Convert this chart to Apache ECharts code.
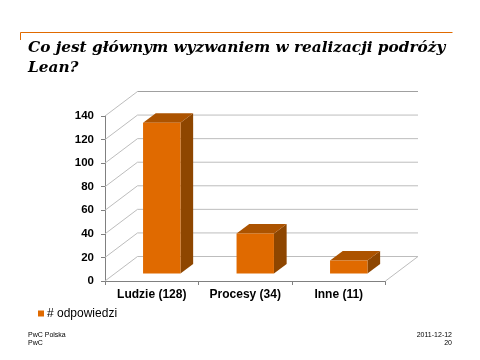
<!DOCTYPE html>
<html><head><meta charset="utf-8">
<style>html,body{margin:0;padding:0;background:#fff}#c{width:480px;height:360px}</style>
<script src="https://cdn.jsdelivr.net/npm/echarts@6/dist/echarts.min.js"></script>
</head><body><div id="c"></div>
<script>
const categories = ['Ludzie (128)', 'Procesy (34)', 'Inne (11)'];
const values = [128, 34, 11];
const yTicks = [0, 20, 40, 60, 80, 100, 120, 140];
const seriesName = '# odpowiedzi';
const titleText = 'Co jest głównym wyzwaniem w realizacji podróży\nLean?';
const footerLeft = 'PwC Polska\nPwC';
const footerRight = '2011-12-12\n20';

const wallDepth = [32.5, -24.5];
const barInset = [10, -7.5];
const barDepth = [12.7, -9.5];
const barShare = 0.4;

const chart = echarts.init(document.getElementById('c'), null, {renderer: 'canvas'});

function renderWall(params, api) {
  const v = api.value(0);
  const cs = params.coordSys;
  const p = api.coord([0, v]);
  const y = p[1];
  const x0 = cs.x, x1 = cs.x + cs.width;
  const bx = x0 + wallDepth[0], by = y + wallDepth[1];
  const children = [
    {type: 'line', shape: {x1: x0, y1: y, x2: bx, y2: by}, style: {stroke: '#BDBDBD', lineWidth: 1}},
    {type: 'line', shape: {x1: bx, y1: by, x2: x1 + wallDepth[0], y2: by},
     style: {stroke: v === 140 ? '#A0A0A0' : '#BDBDBD', lineWidth: 1}}
  ];
  if (v === 0) {
    children.push({type: 'line', shape: {x1: x1, y1: y, x2: x1 + wallDepth[0], y2: by}, style: {stroke: '#BDBDBD', lineWidth: 1}});
  }
  return {type: 'group', children};
}

function renderBar(params, api) {
  const i = api.value(0), v = api.value(1);
  const top = api.coord([i, v]);
  const base = api.coord([i, 0]);
  const w = api.size([1, 0])[0] * barShare;
  const l = top[0] - w / 2 + barInset[0], r = l + w;
  const t = top[1] + barInset[1], b = base[1] + barInset[1];
  const dx = barDepth[0], dy = barDepth[1];
  return {type: 'group', children: [
    {type: 'polygon', shape: {points: [[r, t], [r + dx, t + dy], [r + dx, b + dy], [r, b]]}, style: {fill: '#8E4600'}},
    {type: 'polygon', shape: {points: [[l, t], [l + dx, t + dy], [r + dx, t + dy], [r, t]]}, style: {fill: '#AC5300'}},
    {type: 'rect', shape: {x: l, y: t, width: w, height: b - t}, style: {fill: '#E06A00'}}
  ]};
}

const footStyle = {fontFamily: 'Liberation Sans', fontSize: 7, lineHeight: 8, color: '#000', fontWeight: 'normal'};

chart.setOption({
  animation: false,
  backgroundColor: '#fff',
  title: [
    {text: titleText, left: 28, top: 38, padding: 0,
     textStyle: {fontFamily: 'DejaVu Serif', fontStyle: 'italic', fontWeight: 'bold', fontSize: 15.3, lineHeight: 20, color: '#000'}},
    {text: footerLeft, left: 28, top: 331.5, padding: 0, textStyle: footStyle},
    {text: footerRight, left: 452, top: 331.5, padding: 0, textAlign: 'right', textStyle: Object.assign({}, footStyle, {align: 'right'})}
  ],
  graphic: [
    {type: 'polyline', silent: true, shape: {points: [[20.5, 40], [20.5, 32.5], [452.5, 32.5]]},
     style: {stroke: '#E06A00', lineWidth: 1, fill: null}}
  ],
  legend: {
    left: 38, top: 307.5, padding: 0, itemWidth: 6, itemHeight: 6, itemGap: 3, icon: 'rect',
    data: [seriesName],
    textStyle: {fontFamily: 'Liberation Sans', fontSize: 12, color: '#000', padding: [0, 0, 0, -2]}
  },
  grid: {left: 105, top: 116, width: 280.5, height: 165, containLabel: false},
  xAxis: {
    type: 'category', data: categories, boundaryGap: true,
    axisLine: {lineStyle: {color: '#808080', width: 1}},
    axisTick: {show: true, alignWithLabel: false, length: 4, lineStyle: {color: '#808080'}},
    axisLabel: {fontFamily: 'Liberation Sans', fontWeight: 'bold', fontSize: 12, color: '#000', margin: 8, interval: 0},
    splitLine: {show: false}
  },
  yAxis: {
    type: 'value', min: 0, max: 140, interval: 20,
    axisLine: {show: true, lineStyle: {color: '#808080', width: 1}},
    axisTick: {show: true, length: 4, lineStyle: {color: '#808080'}},
    axisLabel: {fontFamily: 'Liberation Sans', fontWeight: 'bold', fontSize: 11.5, color: '#000', margin: 11},
    splitLine: {show: false}
  },
  series: [
    {type: 'custom', name: 'wall', silent: true, clip: false, z: 1, renderItem: renderWall,
     data: yTicks.map(v => [v]), encode: {y: 0}},
    {type: 'custom', name: seriesName, silent: true, clip: false, z: 3, renderItem: renderBar,
     itemStyle: {color: '#E06A00'},
     data: values.map((v, i) => [i, v]), encode: {x: 0, y: 1}}
  ]
});
</script></body></html>
